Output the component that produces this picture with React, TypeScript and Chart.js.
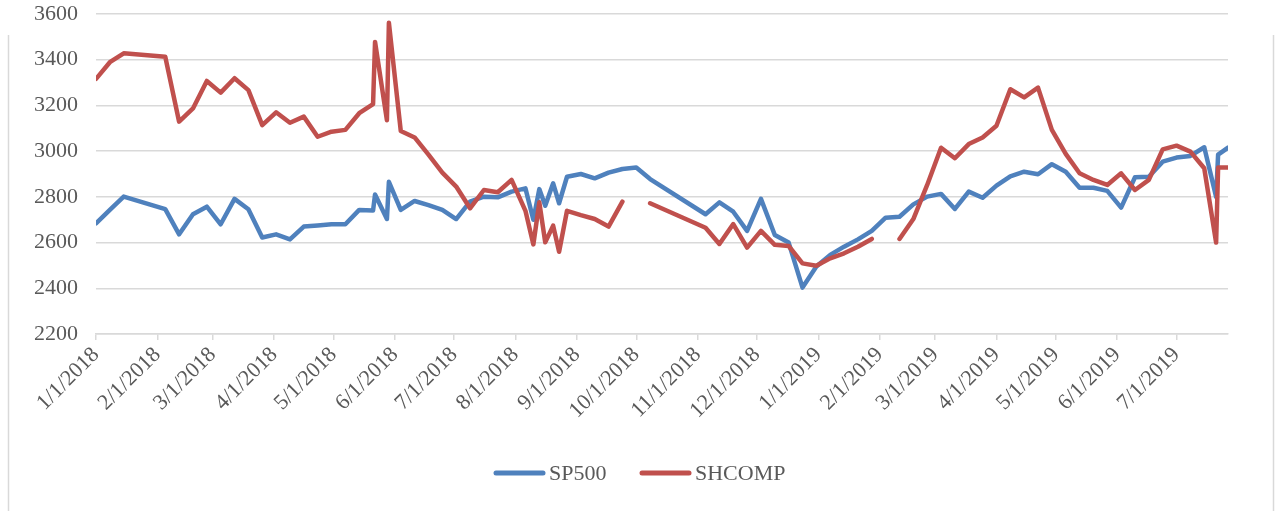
import React, { useEffect, useRef } from "react";
import { Chart, registerables } from "chart.js";

Chart.register(...registerables);

const dates = [
  "2018-01-01", "2018-01-08", "2018-01-15", "2018-02-05", "2018-02-12", "2018-02-19", "2018-02-26",
  "2018-03-05", "2018-03-12", "2018-03-19", "2018-03-26", "2018-04-02", "2018-04-09", "2018-04-16",
  "2018-04-23", "2018-04-30", "2018-05-07", "2018-05-14", "2018-05-21", "2018-05-22", "2018-05-28",
  "2018-05-29", "2018-06-04", "2018-06-11", "2018-06-18", "2018-06-25", "2018-07-02", "2018-07-09",
  "2018-07-16", "2018-07-23", "2018-07-30", "2018-08-06", "2018-08-10", "2018-08-13", "2018-08-16",
  "2018-08-20", "2018-08-23", "2018-08-27", "2018-09-03", "2018-09-10", "2018-09-17", "2018-09-24",
  "2018-10-01", "2018-10-08", "2018-11-05", "2018-11-12", "2018-11-19", "2018-11-26", "2018-12-03",
  "2018-12-10", "2018-12-17", "2018-12-24", "2018-12-31", "2019-01-07", "2019-01-14", "2019-01-21",
  "2019-01-28", "2019-02-04", "2019-02-11", "2019-02-18", "2019-02-25", "2019-03-04", "2019-03-11",
  "2019-03-18", "2019-03-25", "2019-04-01", "2019-04-08", "2019-04-15", "2019-04-22", "2019-04-29",
  "2019-05-06", "2019-05-13", "2019-05-20", "2019-05-27", "2019-06-03", "2019-06-10", "2019-06-17",
  "2019-06-24", "2019-07-01", "2019-07-08", "2019-07-15", "2019-07-21", "2019-07-22", "2019-07-27",
];

const sp500 = [
  2684, 2743, 2801, 2746, 2636, 2724, 2757, 2680, 2791, 2746,
  2622, 2636, 2614, 2670, 2675, 2680, 2680, 2743, 2740, 2810,
  2703, 2866, 2743, 2782, 2764, 2743, 2703, 2779, 2801, 2798,
  2823, 2837, 2700, 2834, 2761, 2859, 2772, 2888, 2900, 2881,
  2906, 2922, 2928, 2878, 2724, 2776, 2735, 2651, 2791, 2633,
  2600, 2403, 2495, 2546, 2582, 2614, 2651, 2709, 2713, 2767,
  2801, 2813, 2747, 2823, 2796, 2849, 2890, 2910, 2899, 2943,
  2910, 2840, 2840, 2826, 2753, 2886, 2888, 2954, 2972, 2979,
  3017, 2800, 2985, 3015,
];

const shcomp: (number | null)[] = [
  3316, 3389, 3428, 3413, 3129, 3187, 3307, 3256, 3319, 3267,
  3114, 3170, 3124, 3151, 3063, 3085, 3093, 3166, 3206, 3478,
  3135, 3562, 3088, 3060, 2985, 2906, 2845, 2750, 2830, 2820,
  2874, 2739, 2592, 2776, 2601, 2674, 2560, 2739, 2720, 2703,
  2670, 2779, null, 2772, 2665, 2594, 2681, 2578, 2651, 2590,
  2585, 2509, 2499, 2531, 2553, 2582, 2616, null, 2616, 2703,
  2852, 3015, 2969, 3031, 3060, 3111, 3271, 3235, 3278, 3093,
  2988, 2903, 2874, 2852, 2903, 2830, 2874, 3008, 3024, 2998,
  2925, 2600, 2928, 2928,
];

const monthTicks = [
  "2018-01-01", "2018-02-01", "2018-03-01", "2018-04-01", "2018-05-01", "2018-06-01",
  "2018-07-01", "2018-08-01", "2018-09-01", "2018-10-01", "2018-11-01", "2018-12-01",
  "2019-01-01", "2019-02-01", "2019-03-01", "2019-04-01", "2019-05-01", "2019-06-01",
  "2019-07-01",
];

const yTicks = [2200, 2400, 2600, 2800, 3000, 3200, 3400, 3600];

const seriesNames = ["SP500", "SHCOMP"];
const seriesColors = ["#4f81bd", "#c0504d"];

const FONT_FAMILY = "'Liberation Serif', 'Times New Roman', serif";
const FONT_SIZE = 22;
const TEXT_COLOR = "#595959";
const GRID_COLOR = "#d9d9d9";

const DAY_MS = 86400000;
const ORIGIN = Date.UTC(2018, 0, 1);

function toDay(s: string): number {
  const [y, m, d] = s.split("-").map(Number);
  return Math.round((Date.UTC(y, m - 1, d) - ORIGIN) / DAY_MS);
}

function fmtDay(day: number): string {
  const dt = new Date(ORIGIN + day * DAY_MS);
  return `${dt.getUTCMonth() + 1}/${dt.getUTCDate()}/${dt.getUTCFullYear()}`;
}

const legendStarts = [494, 640];

const decorPlugin = {
  id: "decor",
  afterDraw(chart: any) {
    const ctx = chart.ctx as CanvasRenderingContext2D;
    const W = chart.width;
    const H = chart.height;
    ctx.save();
    // outer frame sides
    ctx.strokeStyle = GRID_COLOR;
    ctx.lineWidth = 1.5;
    ctx.beginPath();
    ctx.moveTo(8.5, 35);
    ctx.lineTo(8.5, H);
    ctx.moveTo(W - 3.5, 35);
    ctx.lineTo(W - 3.5, H);
    ctx.stroke();

    // legend
    ctx.font = `${FONT_SIZE}px ${FONT_FAMILY}`;
    ctx.textBaseline = "middle";
    ctx.textAlign = "left";
    const lineLen = 51;
    const y = 473;
    const ds = chart.data.datasets;
    ds.forEach((d: any, i: number) => {
      const x = legendStarts[i];
      ctx.strokeStyle = d.borderColor;
      ctx.lineWidth = 5;
      ctx.lineCap = "round";
      ctx.beginPath();
      ctx.moveTo(x + 2, y);
      ctx.lineTo(x + lineLen - 2, y);
      ctx.stroke();
      ctx.fillStyle = TEXT_COLOR;
      ctx.fillText(d.label, x + lineLen + 4, y + 1);
    });
    ctx.restore();
  },
};

export default function App() {
  const canvasRef = useRef<HTMLCanvasElement | null>(null);

  useEffect(() => {
    if (!canvasRef.current) return;
    const xs = dates.map(toDay);
    const lastDay = xs[xs.length - 1];
    const font = { family: FONT_FAMILY, size: FONT_SIZE };

    const chart = new Chart(canvasRef.current, {
      type: "line",
      data: {
        datasets: [
          {
            label: seriesNames[0],
            data: xs.map((x, i) => ({ x, y: sp500[i] })),
            borderColor: seriesColors[0],
            backgroundColor: seriesColors[0],
            borderWidth: 4.5,
            pointRadius: 0,
            borderCapStyle: "round",
            borderJoinStyle: "round",
            tension: 0,
            order: 1,
          },
          {
            label: seriesNames[1],
            data: xs.map((x, i) => ({ x, y: shcomp[i] })),
            borderColor: seriesColors[1],
            backgroundColor: seriesColors[1],
            borderWidth: 4.5,
            pointRadius: 0,
            borderCapStyle: "round",
            borderJoinStyle: "round",
            tension: 0,
            spanGaps: false,
            order: 0,
          },
        ],
      },
      options: {
        animation: false,
        responsive: false,
        devicePixelRatio: 1,
        layout: { padding: { left: 0, right: 49, top: 14, bottom: 0 } },
        plugins: {
          legend: { display: false },
          tooltip: { enabled: false },
        },
        scales: {
          x: {
            type: "linear",
            min: 0,
            max: lastDay,
            afterBuildTicks: (scale: any) => {
              scale.ticks = monthTicks.map((m) => ({ value: toDay(m) }));
            },
            afterFit: (scale: any) => {
              scale.height = 177;
              scale.paddingLeft = 0;
              scale.paddingRight = 0;
              scale.paddingTop = 0;
              scale.paddingBottom = 0;
            },
            ticks: {
              autoSkip: false,
              maxRotation: 45,
              minRotation: 45,
              font,
              color: TEXT_COLOR,
              padding: 2,
              callback: (v: any) => fmtDay(Number(v)),
            },
            grid: {
              drawOnChartArea: false,
              drawTicks: true,
              tickLength: 6,
              color: GRID_COLOR,
              lineWidth: 1.5,
            },
            border: { display: true, color: GRID_COLOR, width: 1.5 },
          },
          y: {
            min: 2200,
            max: 3600,
            afterBuildTicks: (scale: any) => {
              scale.ticks = yTicks.map((v) => ({ value: v }));
            },
            afterFit: (scale: any) => {
              scale.width = 96;
              scale.paddingTop = 0;
              scale.paddingBottom = 0;
            },
            ticks: {
              font,
              color: TEXT_COLOR,
              padding: 18,
              callback: (v: any) => String(v),
            },
            grid: { color: GRID_COLOR, drawTicks: false, lineWidth: 1.5 },
            border: { display: false },
          },
        },
      },
      plugins: [decorPlugin],
    } as any);

    return () => chart.destroy();
  }, []);

  return (
    <div
      style={{
        position: "absolute",
        left: 0,
        top: 0,
        width: 1277,
        height: 511,
        background: "#ffffff",
      }}
    >
      <canvas ref={canvasRef} width={1277} height={511} style={{ display: "block" }} />
    </div>
  );
}
